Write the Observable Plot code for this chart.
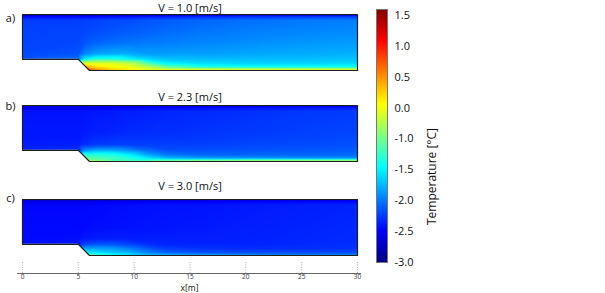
<!DOCTYPE html>
<html><head><meta charset="utf-8">
<script src="https://cdn.jsdelivr.net/npm/d3@7"></script>
<script src="https://cdn.jsdelivr.net/npm/@observablehq/plot@0.6"></script>
<style>
html,body{margin:0;padding:0;background:#fff;}
#chart{position:relative;width:605px;height:293px;overflow:hidden;background:#fff;}
#chart svg{position:absolute;}
</style></head><body><div id="chart"></div>
<script>
// grid of sample positions (m)
const xs = [0, 5, 5.6, 6.5, 8, 9.5, 11, 13, 16, 20, 25, 30];
const ys = [0, 0.12, 0.3, 0.6, 1, 1.5, 2.5, 3.5, 4.5, 4.85, 5];

// temperature [°C], one row per ys value (bottom to top)
const fieldA = [
  [1.1, 1.1, 1.2, 0.8, 0.3, 0.2, 0.1, 0.2, 0.3, 0.35, 0.35, 0.4],
  [0.8, 0.8, 0.8, 0.45, 0.2, 0.1, -0.1, -0.4, -0.45, -0.5, -0.5, -0.5],
  [0.4, 0.4, 0.4, 0.2, 0.1, 0.0, -0.35, -1.05, -1.3, -1.38, -1.4, -1.4],
  [0.0, 0.0, 0.05, 0.0, -0.05, -0.3, -1.0, -1.45, -1.58, -1.62, -1.62, -1.6],
  [-2.2, -2.05, -1.5, -1.3, -1.3, -1.45, -1.6, -1.7, -1.72, -1.72, -1.72, -1.7],
  [-2.2, -2.15, -1.95, -1.85, -1.8, -1.8, -1.85, -1.85, -1.85, -1.82, -1.8, -1.78],
  [-2.22, -2.2, -2.15, -2.1, -2.05, -2.02, -2.0, -1.98, -1.95, -1.92, -1.88, -1.86],
  [-2.22, -2.22, -2.2, -2.18, -2.15, -2.12, -2.1, -2.06, -2.02, -1.98, -1.95, -1.93],
  [-2.25, -2.24, -2.23, -2.22, -2.2, -2.18, -2.15, -2.12, -2.08, -2.04, -2.0, -1.98],
  [-2.5, -2.5, -2.5, -2.48, -2.46, -2.45, -2.42, -2.4, -2.36, -2.32, -2.3, -2.28],
  [-2.95, -2.95, -2.95, -2.94, -2.93, -2.92, -2.9, -2.9, -2.88, -2.86, -2.85, -2.85]
];
const fieldB = [
  [0.1, 0.1, 0.15, -0.2, -0.9, -1.0, -1.0, -0.8, -0.6, -0.4, -0.3, -0.3],
  [-0.6, -0.6, -0.7, -1.0, -1.2, -1.25, -1.3, -1.2, -1.1, -1.0, -1.0, -1.0],
  [-1.05, -1.05, -1.1, -1.15, -1.2, -1.3, -1.5, -1.75, -1.85, -1.88, -1.9, -1.9],
  [-1.35, -1.35, -1.3, -1.3, -1.35, -1.5, -1.78, -2.0, -2.07, -2.08, -2.08, -2.06],
  [-2.38, -2.3, -1.9, -1.8, -1.8, -1.9, -2.05, -2.16, -2.17, -2.16, -2.14, -2.12],
  [-2.38, -2.37, -2.3, -2.26, -2.24, -2.24, -2.24, -2.24, -2.23, -2.21, -2.19, -2.17],
  [-2.4, -2.4, -2.38, -2.36, -2.34, -2.32, -2.31, -2.3, -2.28, -2.26, -2.23, -2.21],
  [-2.4, -2.4, -2.4, -2.38, -2.37, -2.35, -2.34, -2.32, -2.3, -2.28, -2.25, -2.23],
  [-2.42, -2.42, -2.41, -2.4, -2.39, -2.37, -2.36, -2.34, -2.32, -2.3, -2.27, -2.25],
  [-2.55, -2.55, -2.55, -2.54, -2.53, -2.52, -2.5, -2.49, -2.47, -2.45, -2.43, -2.42],
  [-2.8, -2.8, -2.8, -2.79, -2.78, -2.77, -2.76, -2.75, -2.74, -2.72, -2.71, -2.7]
];
const fieldC = [
  [-0.7, -0.7, -0.7, -0.9, -1.3, -1.5, -1.7, -1.75, -1.8, -1.85, -1.88, -1.9],
  [-1.2, -1.2, -1.2, -1.35, -1.5, -1.6, -1.8, -1.9, -1.98, -2.02, -2.05, -2.05],
  [-1.55, -1.55, -1.55, -1.6, -1.7, -1.78, -1.95, -2.12, -2.18, -2.2, -2.2, -2.2],
  [-1.85, -1.85, -1.8, -1.8, -1.85, -1.95, -2.1, -2.24, -2.28, -2.3, -2.3, -2.28],
  [-2.45, -2.4, -2.2, -2.15, -2.15, -2.22, -2.3, -2.34, -2.35, -2.35, -2.33, -2.3],
  [-2.45, -2.44, -2.4, -2.38, -2.37, -2.37, -2.37, -2.37, -2.37, -2.36, -2.34, -2.32],
  [-2.46, -2.46, -2.45, -2.44, -2.43, -2.42, -2.41, -2.4, -2.39, -2.37, -2.35, -2.33],
  [-2.46, -2.46, -2.46, -2.45, -2.44, -2.43, -2.42, -2.41, -2.4, -2.38, -2.36, -2.34],
  [-2.47, -2.47, -2.47, -2.46, -2.45, -2.44, -2.43, -2.42, -2.41, -2.39, -2.37, -2.35],
  [-2.58, -2.58, -2.58, -2.57, -2.56, -2.55, -2.54, -2.53, -2.52, -2.5, -2.49, -2.48],
  [-2.8, -2.8, -2.8, -2.79, -2.78, -2.78, -2.77, -2.76, -2.75, -2.74, -2.73, -2.72]
];

const panelTitles = ["V = 1.0 [m/s]", "V = 2.3 [m/s]", "V = 3.0 [m/s]"];
const panelLabels = ["a)", "b)", "c)"];
const xTicks = [0, 5, 10, 15, 20, 25, 30];
const xLabel = "x[m]";
const cbTicks = [-3, -2.5, -2, -1.5, -1, 0, 0.5, 1, 1.5];
const cbStops = [-3, -2.5, -2, -1.5, -1, 0, 0.5, 1, 1.5, 1.6];
const cbSlots = [0, 1, 2, 3, 4, 5, 6, 7, 8, 8.2];
const cbLabel = "Temperature [°C]";

// domain geometry (m)
const outline = [{x:0,y:1},{x:0,y:5},{x:30,y:5},{x:30,y:0},{x:6,y:0},{x:5,y:1},{x:0,y:1}];
// solid region under the step (drawn white over the field), base slightly below the channel floor
const stepCut = [{x:-0.2,y:1,b:-0.2},{x:5,y:1,b:-0.2},{x:6,y:0,b:-0.2}];

function jet(t) {
  const c = v => Math.round(255 * Math.max(0, Math.min(1, v)));
  return `rgb(${c(Math.min(4*t-1.5, -4*t+4.5))},${c(Math.min(4*t-0.5, -4*t+3.5))},${c(Math.min(4*t+0.5, -4*t+2.5))})`;
}
const colorOpts = {type: "linear", domain: cbStops, range: cbSlots.map(s => s / 8.2), interpolate: jet};
const font = '"Open Sans", sans-serif';
const baseStyle = {background: "transparent", overflow: "visible", fontFamily: font, color: "#111"};
const chart = document.getElementById("chart");

const panels = [
  {field: fieldA, top: 13.5, titleDy: -6.5, labelDy: 3.5},
  {field: fieldB, top: 105, titleDy: -8, labelDy: 1},
  {field: fieldC, top: 199, titleDy: -13, labelDy: -1}
];
panels.forEach((p, k) => {
  const pts = ys.flatMap((y, j) => xs.map((x, i) => ({x, y, t: p.field[j][i]})));
  const svg = Plot.plot({
    width: 380, height: 84, marginTop: 24, marginBottom: 4, marginLeft: 22, marginRight: 23,
    x: {domain: [0, 30], axis: null}, y: {domain: [0, 5], axis: null},
    color: colorOpts,
    style: baseStyle,
    marks: [
      Plot.raster(pts, {x: "x", y: "y", fill: "t", interpolate: "barycentric", x1: 0, x2: 30, y1: 0, y2: 5}),
      Plot.areaY(stepCut, {x: "x", y1: "b", y2: "y", fill: "white"}),
      Plot.line(outline, {x: "x", y: "y", stroke: "#1e1e1e", strokeWidth: 1.2}),
      Plot.text([panelTitles[k]], {text: d => d, frameAnchor: "top", lineAnchor: "middle", dy: p.titleDy, fontSize: 11, fill: "#111"}),
      Plot.text([panelLabels[k]], {text: d => d, frameAnchor: "top-left", lineAnchor: "middle", textAnchor: "middle", dx: -12, dy: p.labelDy, fontSize: 11, fill: "#111"})
    ]
  });
  svg.style.left = "0px";
  svg.style.top = (p.top - 24) + "px";
  chart.appendChild(svg);
});

// x axis
const axisSvg = Plot.plot({
  width: 380, height: 38, marginTop: 7, marginBottom: 20, marginLeft: 17, marginRight: 19,
  x: {domain: [0, 30], insetLeft: 5, insetRight: 4, label: null},
  y: {domain: [0, 1], axis: null},
  style: baseStyle,
  marks: [
    Plot.ruleX(xTicks, {stroke: "#aaa", strokeDasharray: "1,1.5"}),
    Plot.ruleY([0], {stroke: "#666"}),
    Plot.axisX(xTicks, {tickSize: 0, tickPadding: 0.5, fontSize: 6.5, label: null, fill: "#333"}),
    Plot.text([xLabel], {text: d => d, frameAnchor: "bottom", lineAnchor: "middle", dy: 14.5, fontSize: 8.5, fill: "#111"})
  ]
});
axisSvg.style.left = "0px";
axisSvg.style.top = "255px";
chart.appendChild(axisSvg);

// colour bar
const cbSvg = Plot.plot({
  width: 245, height: 293, marginLeft: 16, marginRight: 218, marginTop: 9, marginBottom: 31,
  x: {domain: [0, 1], axis: null},
  y: {type: "linear", domain: cbStops, range: cbSlots.map(s => 261.7 - s * 30.84), axis: null},
  color: colorOpts,
  style: baseStyle,
  marks: [
    Plot.raster({fill: (x, y) => y, x1: 0, x2: 1, y1: -3, y2: 1.6}),
    Plot.frame({stroke: "#777"}),
    Plot.axisY(cbTicks, {anchor: "right", tickSize: 0, tickPadding: 7, tickFormat: d => d.toFixed(1), fontSize: 11, label: null, fill: "#111"}),
    Plot.text([cbLabel], {text: d => d, frameAnchor: "right", dx: 45, dy: -8, rotate: -90, fontSize: 12, fill: "#111"})
  ]
});
cbSvg.style.left = "360px";
cbSvg.style.top = "0px";
chart.appendChild(cbSvg);
</script></body></html>
